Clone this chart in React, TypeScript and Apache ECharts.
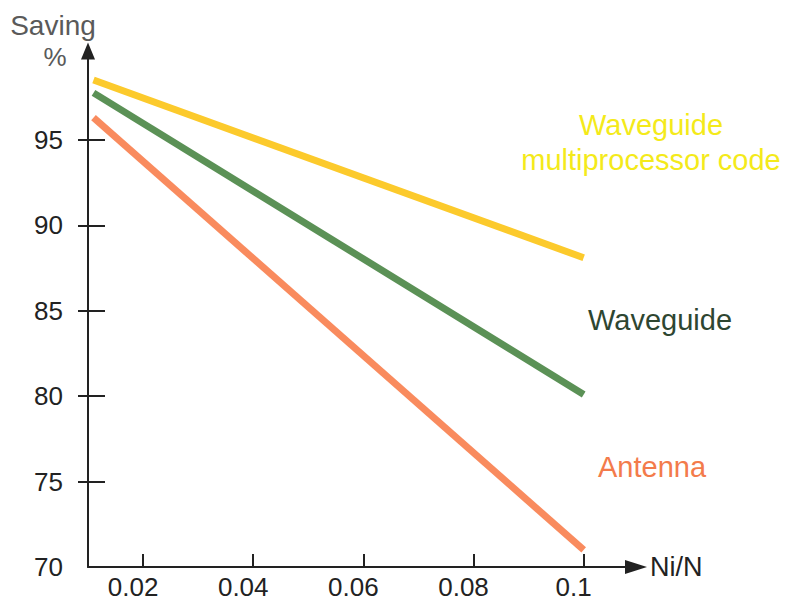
import React, { useEffect, useRef } from "react";
import * as echarts from "echarts";

const xTicks = [0.02, 0.04, 0.06, 0.08, 0.1];
const yTicks = [75, 80, 85, 90, 95];
const yLabels = [70, 75, 80, 85, 90, 95];

const antenna = [[0.011, 96.3], [0.1, 71.0]];
const waveguide = [[0.011, 97.75], [0.1, 80.1]];
const waveguideMulti = [[0.011, 98.5], [0.1, 88.1]];

const FONT = "Liberation Sans, Arial, Helvetica, sans-serif";

export default function App() {
  const ref = useRef<HTMLDivElement>(null);
  useEffect(() => {
    if (!ref.current) return;
    const chart = echarts.init(ref.current, undefined, { renderer: "svg" });
    const axisColor = "#222";
    chart.setOption({
      animation: false,
      backgroundColor: "#fff",
      grid: { left: 88, top: 51, right: 154, bottom: 34, containLabel: false },
      xAxis: {
        type: "value",
        min: 0.01,
        max: 0.1095,
        name: "Ni/N",
        nameLocation: "end",
        nameGap: 14,
        nameTextStyle: { fontFamily: FONT, fontSize: 27, color: "#222", verticalAlign: "middle" },
        axisLine: {
          show: true,
          onZero: false,
          symbol: ["none", "triangle"],
          symbolSize: [14, 22],
          lineStyle: { color: axisColor, width: 2 },
        },
        axisTick: {
          show: true,
          inside: true,
          length: 13,
          customValues: xTicks,
          lineStyle: { color: axisColor, width: 2 },
        },
        axisLabel: {
          customValues: xTicks,
          fontFamily: FONT,
          fontSize: 26,
          lineHeight: 24,
          color: "#222",
          margin: 8,
          padding: [0, 20, 0, 0],
          formatter: (v: number) => String(Math.round(v * 100) / 100),
        },
        splitLine: { show: false },
      },
      yAxis: [
        {
          type: "value",
          min: 70,
          max: 100.2,
          position: "left",
          axisLine: {
            show: true,
            onZero: false,
            symbol: ["none", "triangle"],
            symbolSize: [14, 17],
            lineStyle: { color: axisColor, width: 2 },
          },
          axisTick: {
            show: true,
            inside: true,
            length: 17,
            customValues: yTicks,
            lineStyle: { color: axisColor, width: 2 },
          },
          axisLabel: {
            customValues: yLabels,
            fontFamily: FONT,
            fontSize: 26,
            color: "#222",
            margin: 25,
          },
          splitLine: { show: false },
        },
        {
          type: "value",
          min: 70,
          max: 100.2,
          position: "left",
          axisLine: { show: false },
          axisTick: {
            show: true,
            inside: false,
            length: 10,
            customValues: yTicks,
            lineStyle: { color: axisColor, width: 2 },
          },
          axisLabel: { show: false },
          splitLine: { show: false },
        },
      ],
      series: [
        {
          name: "Waveguide multiprocessor code",
          type: "line",
          data: waveguideMulti,
          symbol: "none",
          lineStyle: { color: "#FCCA2C", width: 7, cap: "butt" },
        },
        {
          name: "Waveguide",
          type: "line",
          data: waveguide,
          symbol: "none",
          lineStyle: { color: "#5B9156", width: 7, cap: "butt" },
        },
        {
          name: "Antenna",
          type: "line",
          data: antenna,
          symbol: "none",
          lineStyle: { color: "#F98B5E", width: 7, cap: "butt" },
        },
      ],
      graphic: [
        {
          type: "text",
          x: 53,
          y: 25,
          style: { text: "Saving", fill: "#5a5a5a", font: `28px ${FONT}`, align: "center", verticalAlign: "middle" },
        },
        {
          type: "text",
          x: 55,
          y: 57,
          style: { text: "%", fill: "#5a5a5a", font: `26px ${FONT}`, align: "center", verticalAlign: "middle" },
        },
        {
          type: "text",
          x: 651,
          y: 142,
          style: {
            text: "Waveguide\nmultiprocessor code",
            fill: "#F4EA1A",
            font: `29px ${FONT}`,
            lineHeight: 35,
            align: "center",
            verticalAlign: "middle",
          },
        },
        {
          type: "text",
          x: 660,
          y: 320,
          style: { text: "Waveguide", fill: "#2E4631", font: `29px ${FONT}`, align: "center", verticalAlign: "middle" },
        },
        {
          type: "text",
          x: 652,
          y: 467,
          style: { text: "Antenna", fill: "#F37B4B", font: `29px ${FONT}`, align: "center", verticalAlign: "middle" },
        },
      ],
    });
    return () => chart.dispose();
  }, []);
  return <div ref={ref} style={{ width: 790, height: 601, position: "absolute", left: 0, top: 0 }} />;
}
